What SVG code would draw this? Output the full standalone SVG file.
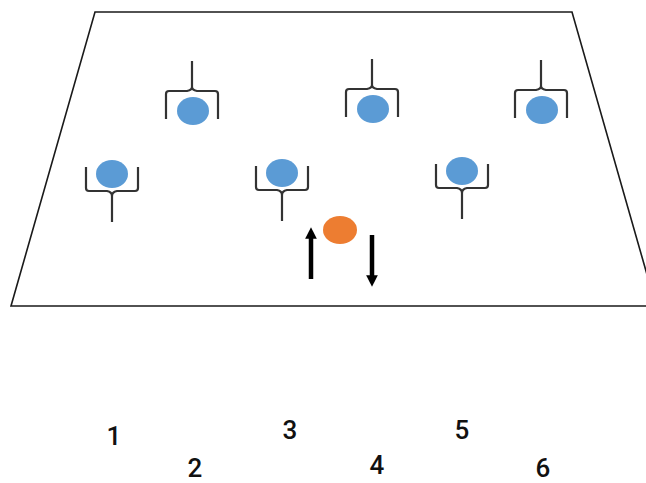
<svg xmlns="http://www.w3.org/2000/svg" width="646" height="483" viewBox="0 0 646 483">
<style>
.field{fill:#fff;stroke:#1a1a1a;stroke-width:1.6}
.gear{fill:none;stroke:#333;stroke-width:2.2;stroke-linejoin:round}
.blue{fill:#5b9bd5}
.ball{fill:#ed7d31}
.arr{stroke:#000;stroke-width:4.5}
.num{font-family:Roboto,"Liberation Sans",sans-serif;font-size:26px;font-weight:500;fill:#111;text-anchor:middle}
</style>
<defs>
<marker id="ah" viewBox="0 0 10 10" refX="5" refY="5" markerWidth="2.6" markerHeight="2.6" orient="auto">
<path d="M0,0 L10,5 L0,10 z" fill="#000"/>
</marker>
<g id="pDown">
<path class="gear" d="M-1,-50 L-1,-24 Q-1,-21 -6,-20 L-24,-20 Q-27,-20 -27,-17 L-27,8 M-1,-50 L-1,-24 Q-1,-21 4,-20 L22,-20 Q25,-20 25,-17 L25,8"/>
<ellipse class="blue" cx="0" cy="0" rx="16" ry="14"/>
</g>
<g id="pUp">
<path class="gear" d="M0,48 L0,22 Q0,18 -5,17 L-23,17 Q-26,17 -26,14 L-26,-7 M0,48 L0,22 Q0,18 5,17 L23,17 Q26,17 26,14 L26,-7"/>
<ellipse class="blue" cx="0" cy="0" rx="16" ry="14"/>
</g>
</defs>
<polygon class="field" points="95,12 572,12 656,306 11,306"/>
<g id="player-top-1"><use href="#pDown" x="193" y="111"/></g>
<g id="player-top-2"><use href="#pDown" x="373" y="109"/></g>
<g id="player-top-3"><use href="#pDown" x="542" y="110"/></g>
<g id="player-bot-1"><use href="#pUp" x="112" y="174"/></g>
<g id="player-bot-2"><use href="#pUp" x="282" y="173"/></g>
<g id="player-bot-3"><use href="#pUp" x="462" y="171"/></g>
<g id="ball"><ellipse class="ball" cx="340" cy="230" rx="17" ry="14"/></g>
<g id="connectors">
<line class="arr" x1="311" y1="279" x2="311" y2="233" marker-end="url(#ah)"/>
<line class="arr" x1="372" y1="235" x2="372" y2="281" marker-end="url(#ah)"/>
</g>
<g id="labels">
<text class="num" x="114" y="445">1</text>
<text class="num" x="195" y="477">2</text>
<text class="num" x="290" y="439">3</text>
<text class="num" x="377" y="474">4</text>
<text class="num" x="462" y="439">5</text>
<text class="num" x="543" y="477">6</text>
</g>
</svg>
